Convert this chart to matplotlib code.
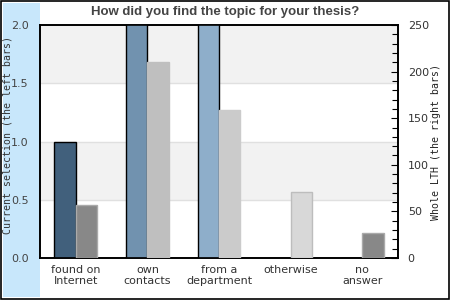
import matplotlib
matplotlib.use("Agg")
import matplotlib.pyplot as plt
import numpy as np
from matplotlib.patches import Rectangle

categories = ["found on\nInternet", "own\ncontacts", "from a\ndepartment", "otherwise", "no\nanswer"]
current_selection = [1.0, 3.0, 3.0, 0.0, 0.0]
whole_lth = [57, 210, 159, 71, 27]

left_colors = ["#41607c", "#7192af", "#8eaeca", "#a9c4dc", "#c0d4e6"]
right_colors = ["#888888", "#bfbfbf", "#cbcbcb", "#d8d8d8", "#888888"]
right_edges = ["#aaaaaa", "#bfbfbf", "#cbcbcb", "#bdbdbd", "#aaaaaa"]

fig = plt.figure(figsize=(4.5, 3), dpi=100)
fig.patch.set_facecolor("white")
fig.add_artist(Rectangle((3/450, 3/300), 37/450, 294/300, transform=fig.transFigure,
                         facecolor="#c8e7fb", edgecolor="none", zorder=-5))
fig.add_artist(Rectangle((0.003, 0.003), 0.994, 0.994, transform=fig.transFigure,
                         fill=False, edgecolor="black", linewidth=1.2, zorder=-4))

ax = fig.add_axes([40/450, 42/300, 358/450, 233/300])
ax2 = ax.twinx()

x = np.arange(len(categories))
w = 0.3
ax.set_xlim(-0.5, len(categories) - 0.5)
ax.set_ylim(0, 2)
ax2.set_ylim(0, 250)

for lo, hi in [(0.5, 1.0), (1.5, 2.0)]:
    ax.axhspan(lo, hi, facecolor="#f2f2f2", edgecolor="none", zorder=0)
for yv in [0.5, 1.0, 1.5]:
    ax.axhline(yv, color="#e0e0e0", linewidth=1, zorder=0.5)

ax.bar(x - w/2, current_selection, width=w, color=left_colors, edgecolor="black",
       linewidth=1, zorder=3)
ax2.bar(x + w/2, whole_lth, width=w, color=right_colors, edgecolor=right_edges,
        linewidth=1, zorder=3)

ax.set_xticks(x)
ax.set_xticklabels(categories, fontsize=8, color="#333333", linespacing=1.15)
ax.tick_params(axis="x", length=0, pad=5)
ax.set_yticks([0, 0.5, 1.0, 1.5, 2.0])
ax.set_yticklabels(["0.0", "0.5", "1.0", "1.5", "2.0"])
ax.tick_params(axis="y", length=0, pad=8, labelsize=8, labelcolor="#444444")

ax2.set_yticks([0, 50, 100, 150, 200, 250])
ax2.set_yticks(np.arange(0, 251, 10), minor=True)
ax2.tick_params(axis="y", which="major", direction="in", length=5, pad=7,
                labelsize=8, labelcolor="#333333", width=0.8)
ax2.tick_params(axis="y", which="minor", direction="in", length=4, width=0.8)

for a in (ax, ax2):
    for s in a.spines.values():
        s.set_color("black")
        s.set_linewidth(1.2)

ax.set_ylabel("Current selection (the left bars)", family="DejaVu Sans Mono",
              fontsize=7.1, color="#333333")
ax.yaxis.set_label_coords(-27/358, 0.5 + 6/233)
ax2.set_ylabel("Whole LTH (the right bars)", family="DejaVu Sans Mono",
               fontsize=7.1, color="#222222")
ax2.yaxis.set_label_coords(1 + 33/358, 0.5)

fig.text(0.5, 1 - 12/300, "How did you find the topic for your thesis?",
         ha="center", va="center", fontsize=9.5, fontweight="bold",
         family="Liberation Sans", color="#444444")

fig.savefig("out.png", dpi=100)
